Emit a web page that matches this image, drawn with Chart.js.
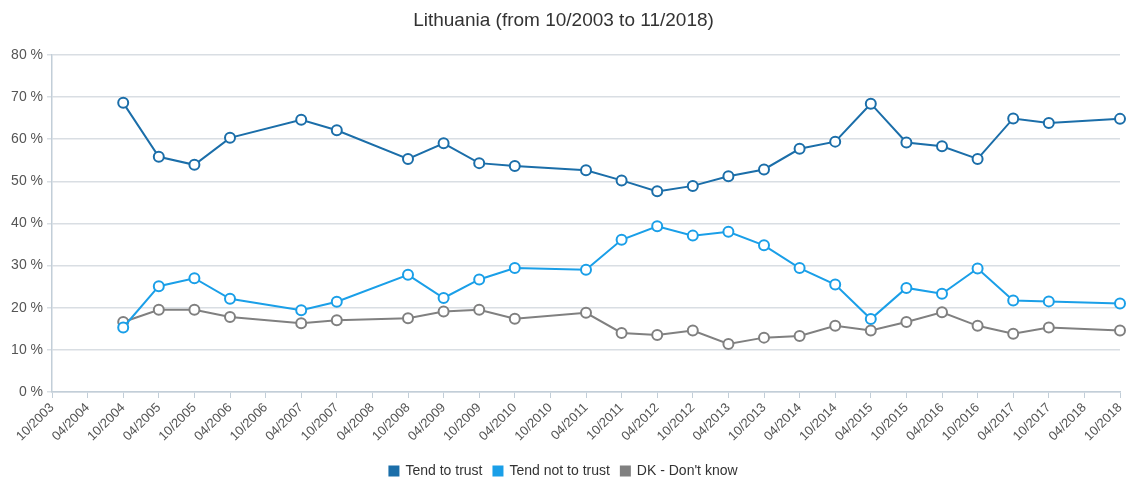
<!DOCTYPE html>
<html>
<head>
<meta charset="utf-8">
<script src="https://cdn.jsdelivr.net/npm/chart.js@4.4.1/dist/chart.umd.min.js"></script>
<style>
  html, body { margin: 0; padding: 0; background: #fff; }
  #wrap { width: 1127px; height: 478px; }
</style>
</head>
<body>
<div id="wrap"><canvas id="chart"></canvas></div>
<script>
// survey waves every six months, null where there was no wave
const periods = [
  '10/2003', '04/2004', '10/2004', '04/2005', '10/2005', '04/2006', '10/2006',
  '04/2007', '10/2007', '04/2008', '10/2008', '04/2009', '10/2009', '04/2010',
  '10/2010', '04/2011', '10/2011', '04/2012', '10/2012', '04/2013', '10/2013',
  '04/2014', '10/2014', '04/2015', '10/2015', '04/2016', '10/2016', '04/2017',
  '10/2017', '04/2018', '10/2018'
];

const tendToTrust = [
  null, null, 68.6, 55.8, 53.9, 60.3, null,
  64.6, 62.1, null, 55.3, 59.0, 54.3, 53.6,
  null, 52.6, 50.2, 47.6, 48.9, 51.2, 52.8,
  57.7, 59.4, 68.4, 59.2, 58.3, 55.3, 64.9,
  63.8, null, 64.8
];

const tendNotToTrust = [
  null, null, 15.3, 25.1, 27.0, 22.1, null,
  19.4, 21.4, null, 27.8, 22.3, 26.7, 29.4,
  null, 29.0, 36.1, 39.3, 37.1, 38.0, 34.8,
  29.4, 25.5, 17.3, 24.7, 23.3, 29.3, 21.7,
  21.5, null, 21.0
];

const dontKnow = [
  null, null, 16.6, 19.5, 19.5, 17.8, null,
  16.3, 17.0, null, 17.5, 19.1, 19.5, 17.4,
  null, 18.8, 14.0, 13.5, 14.6, 11.4, 12.9,
  13.3, 15.7, 14.6, 16.6, 18.9, 15.7, 13.8,
  15.3, null, 14.6
];

const seriesNames = ['Tend to trust', 'Tend not to trust', "DK - Don't know"];
const seriesColors = ['#1b6ea9', '#1a9fe8', '#808080'];

const axisColor = '#c2ced8';
const gridColor = '#d9dee3';

Chart.defaults.font.family = '"Liberation Sans", Arial, sans-serif';
Chart.defaults.color = '#555';

function makeSeries(label, data, color) {
  return {
    label: label,
    data: data,
    borderColor: color,
    backgroundColor: color,
    borderWidth: 2,
    pointBackgroundColor: '#fff',
    pointBorderColor: color,
    pointBorderWidth: 2,
    pointRadius: 5,
    pointHoverRadius: 5,
    spanGaps: true,
    tension: 0,
    fill: false
  };
}

// squeeze the legend box so it sits closer to the bottom edge
const legendFit = {
  id: 'legendFit',
  afterInit(chart) {
    const lg = chart.legend;
    if (!lg) return;
    const orig = lg.fit;
    lg.fit = function () {
      orig.call(this);
      this.height = 25;
    };
  }
};

new Chart(document.getElementById('chart'), {
  type: 'line',
  data: {
    labels: periods,
    datasets: [
      makeSeries(seriesNames[0], tendToTrust, seriesColors[0]),
      makeSeries(seriesNames[1], tendNotToTrust, seriesColors[1]),
      makeSeries(seriesNames[2], dontKnow, seriesColors[2])
    ]
  },
  plugins: [legendFit],
  options: {
    responsive: true,
    maintainAspectRatio: false,
    animation: false,
    layout: { padding: 0 },
    plugins: {
      title: {
        display: true,
        text: 'Lithuania (from 10/2003 to 11/2018)',
        color: '#333',
        font: { size: 19, weight: 'normal' },
        padding: { top: 9, bottom: 23 }
      },
      legend: {
        position: 'bottom',
        labels: {
          boxWidth: 9,
          boxHeight: 9,
          color: '#333',
          font: { size: 14 },
          padding: 11
        }
      },
      tooltip: { enabled: false }
    },
    scales: {
      x: {
        offset: false,
        border: { color: axisColor, width: 1.5 },
        grid: {
          drawOnChartArea: false,
          drawTicks: true,
          tickLength: 6,
          color: axisColor
        },
        ticks: {
          autoSkip: false,
          maxRotation: 45,
          minRotation: 45,
          font: { size: 13 },
          color: '#555',
          padding: 2
        },
        afterFit(scale) {
          scale.height = 61;
          scale.paddingRight = 3;
          scale.paddingLeft = 0;
        }
      },
      y: {
        min: 0,
        max: 80,
        border: { color: axisColor, width: 1.5 },
        grid: {
          color: gridColor,
          lineWidth: 1.5,
          tickLength: 5
        },
        ticks: {
          stepSize: 10,
          font: { size: 14 },
          color: '#555',
          padding: 4,
          callback: v => v + ' %'
        },
        afterFit(scale) {
          scale.width = 52;
        }
      }
    }
  }
});
</script>
</body>
</html>
